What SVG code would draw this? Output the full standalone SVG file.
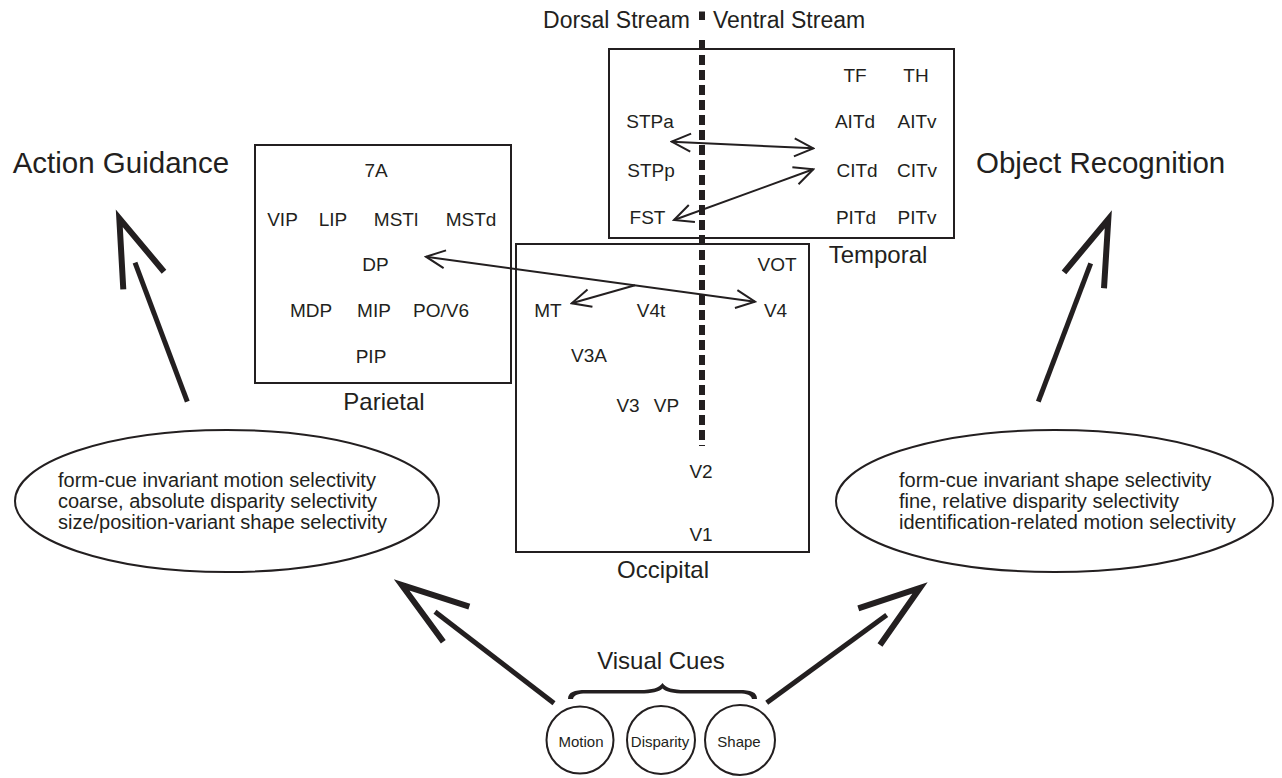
<svg xmlns="http://www.w3.org/2000/svg" width="1282" height="778" viewBox="0 0 1282 778">
<defs>
<style>
text{font-family:"Liberation Sans",Arial,sans-serif;fill:#231f20}
.area{font-size:19px;text-anchor:middle}
.region{font-size:24px;text-anchor:middle}
.title{font-size:29.5px}
.cue{font-size:20px}
.small{font-size:15px;text-anchor:middle}
.box{fill:none;stroke:#231f20;stroke-width:2}
.thin{fill:none;stroke:#231f20;stroke-width:2}
.big{fill:none;stroke:#231f20;stroke-width:5}
.head{fill:none;stroke:#231f20;stroke-width:6;stroke-linejoin:miter;stroke-miterlimit:10}
</style>
<marker id="open" viewBox="-22 -12 24 24" markerWidth="24" markerHeight="24" refX="0" refY="0" markerUnits="userSpaceOnUse" orient="auto-start-reverse">
<path d="M-19,-9 L0,0 L-19,9" fill="none" stroke="#231f20" stroke-width="2"/>
</marker>
</defs>
<rect width="1282" height="778" fill="#fff"/>

<g id="streams">
<text x="690" y="28" font-size="23" text-anchor="end">Dorsal Stream</text>
<text x="713" y="28" font-size="23">Ventral Stream</text>
<rect x="699" y="11.5" width="6" height="8.5" fill="#231f20"/>
<line x1="702" y1="40" x2="702" y2="446" stroke="#231f20" stroke-width="6" stroke-dasharray="10 5"/>
</g>

<g id="temporal">
<rect class="box" x="609" y="49" width="345" height="189"/>
<text class="area" x="855" y="82">TF</text>
<text class="area" x="916" y="82">TH</text>
<text class="area" x="650" y="128">STPa</text>
<text class="area" x="855" y="128">AITd</text>
<text class="area" x="917" y="128">AITv</text>
<text class="area" x="651" y="177">STPp</text>
<text class="area" x="857" y="177">CITd</text>
<text class="area" x="917" y="177">CITv</text>
<text class="area" x="647.5" y="224">FST</text>
<text class="area" x="856" y="224">PITd</text>
<text class="area" x="917" y="224">PITv</text>
<text class="region" x="878" y="263">Temporal</text>
</g>

<g id="parietal">
<rect class="box" x="255" y="145" width="256" height="238"/>
<text class="area" x="376" y="177">7A</text>
<text class="area" x="282.5" y="226">VIP</text>
<text class="area" x="333" y="226">LIP</text>
<text class="area" x="396" y="226">MSTl</text>
<text class="area" x="471" y="226">MSTd</text>
<text class="area" x="375.5" y="271">DP</text>
<text class="area" x="311" y="317">MDP</text>
<text class="area" x="374" y="317">MIP</text>
<text class="area" x="441" y="317">PO/V6</text>
<text class="area" x="371" y="363">PIP</text>
<text class="region" x="384" y="410">Parietal</text>
</g>

<g id="occipital">
<rect class="box" x="516" y="244" width="293" height="308"/>
<text class="area" x="777" y="271">VOT</text>
<text class="area" x="548" y="317">MT</text>
<text class="area" x="651" y="317">V4t</text>
<text class="area" x="775.5" y="317">V4</text>
<text class="area" x="589" y="362">V3A</text>
<text class="area" x="628" y="412">V3</text>
<text class="area" x="666.5" y="412">VP</text>
<text class="area" x="701" y="478">V2</text>
<text class="area" x="701" y="541">V1</text>
<text class="region" x="663" y="578">Occipital</text>
</g>

<g id="action-guidance">
<text class="title" x="12.7" y="173">Action Guidance</text>
</g>
<g id="object-recognition">
<text class="title" x="976" y="173">Object Recognition</text>
</g>

<g id="dorsal-properties">
<ellipse class="box" cx="227" cy="501" rx="212" ry="71"/>
<text class="cue" x="58" y="487">form-cue invariant motion selectivity</text>
<text class="cue" x="58" y="508">coarse, absolute disparity selectivity</text>
<text class="cue" x="58" y="529">size/position-variant shape selectivity</text>
</g>

<g id="ventral-properties">
<ellipse class="box" cx="1054.5" cy="501" rx="218.5" ry="71"/>
<text class="cue" x="899" y="487">form-cue invariant shape selectivity</text>
<text class="cue" x="899" y="508">fine, relative disparity selectivity</text>
<text class="cue" x="899" y="529">identification-related motion selectivity</text>
</g>

<g id="visual-cues">
<text x="661" y="669" font-size="24" text-anchor="middle">Visual Cues</text>
<path fill="#231f20" d="M568,699 C568,692 574,690 586,690 L640,690 C652,690 659,688 662.5,683 C666,688 673,690 685,690 L739,690 C751,690 757,692 757,699 L752,699 C751,695 747,693.5 739,693.5 L685,693.5 C673,693.5 666,692 662.5,688.5 C659,692 652,693.5 640,693.5 L586,693.5 C578,693.5 574,695 573,699 Z"/>
</g>
<g id="motion">
<circle class="box" cx="580" cy="740" r="33.5"/>
<text class="small" x="581" y="746.5">Motion</text>
</g>
<g id="disparity">
<circle class="box" cx="661" cy="740" r="34"/>
<text class="small" x="660" y="746.5">Disparity</text>
</g>
<g id="shape">
<circle class="box" cx="740" cy="740" r="35"/>
<text class="small" x="739" y="746.5">Shape</text>
</g>

<g id="connectors">
<line class="thin" x1="671.7" y1="141.7" x2="813.3" y2="148.3" marker-start="url(#open)" marker-end="url(#open)"/>
<line class="thin" x1="674" y1="220" x2="813.3" y2="169.3" marker-start="url(#open)" marker-end="url(#open)"/>
<line class="thin" x1="426" y1="256.7" x2="755" y2="301.7" marker-start="url(#open)" marker-end="url(#open)"/>
<line class="thin" x1="635" y1="285.3" x2="571.7" y2="303.3" marker-end="url(#open)"/>

<line class="big" x1="187.3" y1="401.7" x2="135" y2="262.7"/>
<polyline class="head" points="123.3,289.3 119.3,218.3 164,271.7"/>

<line class="big" x1="1038.3" y1="401.7" x2="1090.7" y2="263.3"/>
<polyline class="head" points="1064,272.3 1108.3,219.3 1104,288.3"/>

<line class="big" x1="554" y1="703.3" x2="435" y2="611.7"/>
<polyline class="head" points="469.3,606.7 401.7,585 443.3,641.7"/>

<line class="big" x1="766.7" y1="702.7" x2="886.7" y2="615"/>
<polyline class="head" points="858.3,608.3 920,588 880,645"/>
</g>
</svg>
